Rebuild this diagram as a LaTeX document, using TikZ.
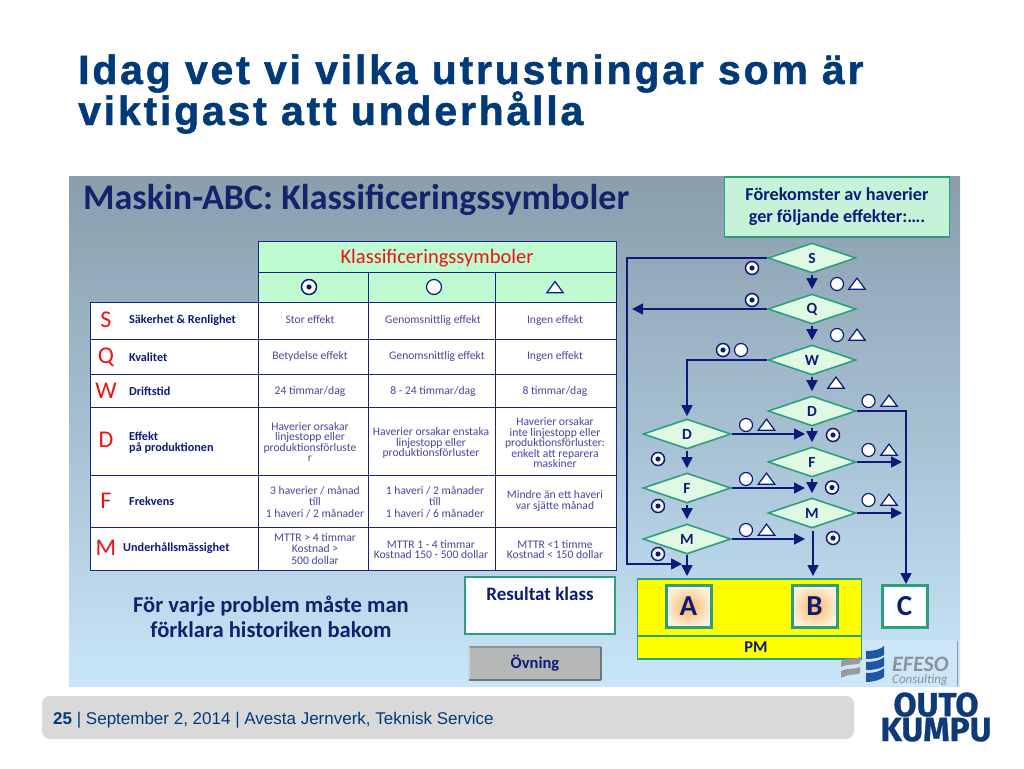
\documentclass[tikz,border=0pt]{standalone}
\usepackage{fontspec}
\setmainfont{Carlito}
\newfontfamily\arialbold[LetterSpace=6.8,BoldFeatures={FakeBold=1.2}]{Liberation Sans}
\newfontfamily\arialreg{Liberation Sans}
\newfontfamily\logofont[BoldFeatures={FakeBold=0.8}]{Fira Sans}
\usetikzlibrary{shapes.geometric,arrows.meta,shadings}
\definecolor{navy}{HTML}{0C1A7C}
\definecolor{titleblue}{HTML}{003A78}
\definecolor{cellc}{HTML}{47479A}
\definecolor{greenl}{HTML}{2C9F80}
\definecolor{mint}{HTML}{BFFBD0}
\definecolor{dmint}{HTML}{DFF9E2}
\definecolor{pantop}{HTML}{8A9EAC}
\definecolor{panmid}{HTML}{A6C0D2}
\definecolor{panbot}{HTML}{C8E6FA}
\definecolor{efbg}{HTML}{CDE6F8}
\definecolor{efline}{HTML}{8A98A4}
\definecolor{ptitlec}{HTML}{16226C}
\definecolor{hdrfill}{HTML}{C6F3D8}
\definecolor{notec}{HTML}{12206E}
\definecolor{btnfill}{HTML}{B6B8B8}
\definecolor{btndark}{HTML}{6E787C}
\definecolor{btnmid}{HTML}{8B9296}
\definecolor{btnlight}{HTML}{CBD3D6}
\definecolor{orin}{HTML}{FDB55A}
\definecolor{orout}{HTML}{F8EFDC}
\definecolor{efgray}{HTML}{9A9A9A}
\definecolor{efblue}{HTML}{1F55A5}
\definecolor{eftext}{HTML}{8C929A}
\definecolor{footg}{HTML}{D9D9D9}
\definecolor{logoc}{HTML}{0F3A78}
\definecolor{yelw}{HTML}{FFFF00}
\definecolor{redk}{HTML}{EE1111}
\newcommand{\fsz}[1]{\fontsize{#1}{#1}\selectfont}
\newcommand{\fsl}[2]{\fontsize{#1}{#2}\selectfont}
\tikzset{
 cond/.style={diamond,draw=greenl,line width=1.6pt,fill=dmint,minimum width=88pt,minimum height=30pt,inner sep=0pt,aspect=2.9,text=navy,font=\fsz{15.5}\bfseries},
 flow/.style={draw=navy,line width=1.6pt,-{Triangle[length=11pt,width=11pt]}},
 short/.style={shorten >=4pt,shorten <=1pt},
 bull/.style={circle,draw=navy,line width=1.5pt,fill=white,minimum size=13pt,inner sep=0pt,path picture={\fill[navy] (path picture bounding box.center) circle (2.6pt);}},
 circ/.style={circle,draw=navy,line width=1.2pt,fill=white,minimum size=13pt,inner sep=0pt},
 tria/.style={regular polygon,regular polygon sides=3,draw=navy,line width=1.2pt,fill=white,minimum size=19pt,inner sep=0pt,yscale=.78,transform shape},
 cell/.style={text=cellc,font=\fsl{11.6}{10.5},align=center,inner sep=0pt},
 cellw/.style={text=cellc,font=\fsl{11.6}{11.8},align=center,inner sep=0pt},
 rowl/.style={text=navy,font=\fsl{12.2}{11}\bfseries,align=left,anchor=west,inner sep=0pt},
 rowk/.style={text=redk,font=\fsz{24},inner sep=0pt},
 gridl/.style={draw=navy!80!cellc,line width=1pt},
 klass/.style={draw=greenl,line width=3pt,minimum width=45pt,minimum height=42pt,inner sep=0pt,text=navy,font=\fsz{29}\bfseries},
}
\begin{document}
\begin{tikzpicture}[x=1pt,y=-1pt]
\useasboundingbox (0,0) rectangle (1024,768);
\fill[white] (0,0) rectangle (1024,768);
% title
\node[anchor=base west,inner sep=0pt,text=titleblue,font=\fsz{41}\arialbold\bfseries] (t1) at (78,84) {Idag vet vi vilka utrustningar som är};
\node[anchor=base west,inner sep=0pt,text=titleblue,font=\fsz{41}\arialbold\bfseries] (t2) at (78,125) {viktigast att underhålla};
% panel
\shade[top color=pantop,bottom color=panbot,middle color=panmid] (69,176) rectangle (960,686);
\fill[efbg] (840,640) rectangle (960,686);
\draw[efline,line width=1pt] (957.5,641) -- (957.5,686);
\node[anchor=base west,inner sep=0pt,text=ptitlec,font=\fsz{36}\bfseries] (ptitle) at (83,209) {Maskin-ABC: Klassificeringssymboler};
\node[draw=greenl,line width=1.6pt,fill=hdrfill,minimum width=225pt,minimum height=60pt,align=center,text=navy,font=\fsl{18.2}{22}\bfseries,inner sep=0pt] (hdr) at (837,207) {Förekomster av haverier\\ger följande effekter:….};
% table
\fill[mint] (258,241) rectangle (616,302);
\fill[white] (90,302) rectangle (616,570);
\draw[gridl] (258,241) rectangle (616,302);
\draw[gridl] (258,272) -- (616,272);
\draw[gridl] (90,302) rectangle (616,570);
\draw[gridl] (258,302) -- (258,570);
\draw[gridl] (368,272) -- (368,570);
\draw[gridl] (495,272) -- (495,570);
\draw[gridl] (90,339) -- (616,339);
\draw[gridl] (90,374) -- (616,374);
\draw[gridl] (90,407) -- (616,407);
\draw[gridl] (90,475) -- (616,475);
\draw[gridl] (90,527) -- (616,527);
\node[text=redk,font=\fsz{20.5},inner sep=0pt] (klh) at (437,258) {Klassificeringssymboler};
\node[bull,minimum size=15pt] (hb) at (309,287) {};
\node[circ,minimum size=15pt] (hc) at (434,287) {};
\node[tria] (ht) at (555,289) {};
\node[rowk] (ks) at (106,320) {S};
\node[rowk] (kq) at (106,357) {Q};
\node[rowk] (kw) at (106,391) {W};
\node[rowk] (kd) at (106,440) {D};
\node[rowk] (kf) at (106,501) {F};
\node[rowk] (km) at (106,548) {M};
\node[rowl] (ls) at (129,320) {Säkerhet \& Renlighet};
\node[rowl] (lq) at (129,357) {Kvalitet};
\node[rowl] (lw) at (129,391) {Driftstid};
\node[rowl] (ld) at (129,443) {Effekt\\på produktionen};
\node[rowl] (lf) at (129,501) {Frekvens};
\node[rowl] (lm) at (123,548) {Underhållsmässighet};
\node[cell] (c11) at (310,320) {Stor effekt};
\node[cell] (c12) at (433,320) {Genomsnittlig effekt};
\node[cell] (c13) at (555,320) {Ingen effekt};
\node[cell] (c21) at (310,356) {Betydelse effekt};
\node[cell] (c22) at (437,356) {Genomsnittlig effekt};
\node[cell] (c23) at (555,356) {Ingen effekt};
\node[cell] (c31) at (310,391) {24 timmar/dag};
\node[cell] (c32) at (433,391) {8 - 24 timmar/dag};
\node[cell] (c33) at (555,391) {8 timmar/dag};
\node[cell] (c41) at (310,442) {Haverier orsakar\\linjestopp eller\\produktionsförluste\\r};
\node[cell] (c42) at (431,443) {Haverier orsakar enstaka\\linjestopp eller\\produktionsförluster};
\node[cell] (c43) at (555,443) {Haverier orsakar\\inte linjestopp eller\\produktionsförluster:\\enkelt att reparera\\maskiner};
\node[cellw] (c51) at (315,502) {3 haverier / månad\\till\\1 haveri / 2 månader};
\node[cellw] (c52) at (435,502) {1 haveri / 2 månader\\till\\1 haveri / 6 månader};
\node[cell] (c53) at (555,501) {Mindre än ett haveri\\var sjätte månad};
\node[cellw] (c61) at (315,549) {MTTR > 4 timmar\\Kostnad >\\500 dollar};
\node[cell] (c62) at (431,549.5) {MTTR 1 - 4 timmar\\Kostnad 150 - 500 dollar};
\node[cell] (c63) at (555,549.5) {MTTR <1 timme\\Kostnad < 150 dollar};
% lower left
\node[align=center,text=notec,font=\fsl{22.6}{25}\bfseries,inner sep=0pt] (note) at (271,617) {För varje problem måste man\\förklara historiken bakom};
\node[draw=greenl,line width=1.3pt,fill=white,minimum width=150pt,minimum height=57pt,inner sep=0pt] (res) at (540,605.5) {};
\node[text=navy,font=\fsz{19}\bfseries,inner sep=0pt] (rest) at (540,594) {Resultat klass};
\node[fill=btnfill,minimum width=132pt,minimum height=33pt,text=navy,font=\fsz{16.5}\bfseries,inner sep=0pt] (ovn) at (535,663.5) {Övning};
\draw[btnmid,line width=1.5pt] (ovn.north west) -- (ovn.north east);
\draw[btnlight,line width=1.5pt] (ovn.north west) -- (ovn.south west);
\draw[btndark,line width=2pt] (ovn.north east) -- (ovn.south east);
\draw[btndark,line width=1.5pt] (ovn.south west) -- (ovn.south east);
% result area
\node[draw=greenl,line width=1.3pt,fill=yelw,minimum width=224pt,minimum height=57pt,inner sep=0pt] (top) at (749.5,607.5) {};
\node[draw=greenl,line width=1.3pt,fill=yelw,minimum width=224pt,minimum height=23pt,inner sep=0pt] (pm) at (749.5,647.5) {};
\node[text=navy,font=\fsz{16.5}\bfseries,inner sep=0pt] (pmt) at (756,647.5) {PM};
\node[klass,inner color=orin,outer color=orout] (A) at (688.5,606.5) {A};
\node[klass,inner color=orin,outer color=orout] (B) at (814.5,606.5) {B};
\node[klass,fill=white] (C) at (904.5,606.5) {C};
% diamonds
\node[cond] (S) at (812,258) {S};
\node[cond] (Q) at (812,309) {Q};
\node[cond] (W) at (812,360) {W};
\node[cond] (D) at (812,411) {D};
\node[cond] (F) at (812,462) {F};
\node[cond] (M) at (812,513) {M};
\node[cond] (LD) at (687,434) {D};
\node[cond] (LF) at (687,488) {F};
\node[cond] (LM) at (687,539) {M};
% connector ends
\coordinate (sa) at (627,258);
\coordinate (sb) at (627,564);
\coordinate (sc) at (682,564);
\coordinate (qe) at (632,309);
\coordinate (wa) at (687,360);
\coordinate (da) at (906,411);
\coordinate (fe) at (902,462);
\coordinate (me) at (902,513);
\coordinate (ld1) at (805,434);
\coordinate (lf1) at (805,488);
\coordinate (lm1) at (805,539);
\coordinate (ble) at (687,576);
\coordinate (brs) at (813,531);
\coordinate (bre) at (813,576);
\coordinate (ce) at (906,584);
\draw[flow] (S.west) -- (sa) -- (sb) -- (sc);
\draw[flow] (Q.west) -- (qe);
\draw[flow,shorten >=2pt] (W.west) -- (wa) -- (LD.north);
\draw[flow,short] (S.south) -- (Q.north);
\draw[flow,short] (Q.south) -- (W.north);
\draw[flow,short] (W.south) -- (D.north);
\draw[flow,short] (D.south) -- (F.north);
\draw[flow,short] (F.south) -- (M.north);
\draw[flow,short] (LD.south) -- (LF.north);
\draw[flow,short] (LF.south) -- (LM.north);
\draw[flow] (LM.south) -- (ble);
\draw[flow] (brs) -- (bre);
\draw[flow] (D.east) -- (da) -- (ce);
\draw[flow] (F.east) -- (fe);
\draw[flow] (M.east) -- (me);
\draw[flow] (LD.east) -- (ld1);
\draw[flow] (LF.east) -- (lf1);
\draw[flow] (LM.east) -- (lm1);
% symbols
\node[bull] (b1) at (752,268) {};
\node[bull] (b2) at (752,300) {};
\node[bull] (b3) at (723,350) {};
\node[bull] (b4) at (833,435) {};
\node[bull] (b5) at (658,459) {};
\node[bull] (b6) at (832,487.5) {};
\node[bull] (b7) at (658,506) {};
\node[bull] (b8) at (833,538) {};
\node[bull] (b9) at (658,554) {};
\node[circ] (o1) at (837,284) {};
\node[tria] (t01) at (857,285.5) {};
\node[circ] (o2) at (837,335) {};
\node[tria] (t02) at (857,336.5) {};
\node[circ] (o3) at (741,350) {};
\node[tria] (t03) at (836,384.5) {};
\node[circ] (o4) at (868.5,401) {};
\node[tria] (t04) at (889,402.5) {};
\node[circ] (o5) at (746,425) {};
\node[tria] (t05) at (766.5,426.5) {};
\node[circ] (o6) at (868.5,450) {};
\node[tria] (t06) at (889,451.5) {};
\node[circ] (o7) at (746,479) {};
\node[tria] (t07) at (766.5,480.5) {};
\node[circ] (o8) at (868.5,500) {};
\node[tria] (t08) at (889,501.5) {};
\node[circ] (o9) at (746,530) {};
\node[tria] (t09) at (766.5,531.5) {};
% EFESO logo
\fill[efgray] (841,661) .. controls (850,657) and (853,660) .. (860,657) -- (860,663) .. controls (853,666) and (850,663) .. (841,667) -- cycle;
\fill[efgray] (841,671) .. controls (850,667) and (853,670) .. (860,667) -- (860,673) .. controls (853,676) and (850,673) .. (841,678) -- cycle;
\fill[efblue] (866,651) .. controls (875,651) and (881,649) .. (884,646) -- (884,655) .. controls (880,658) and (873,659) .. (866,659) -- cycle;
\fill[efblue] (866,662) .. controls (875,662) and (881,660) .. (884,657) -- (884,666) .. controls (880,669) and (873,670) .. (866,670) -- cycle;
\fill[efblue] (866,673) .. controls (875,673) and (881,671) .. (884,668) -- (884,677) .. controls (880,680) and (873,682) .. (866,682) -- cycle;
\node[anchor=base west,inner sep=0pt,text=eftext,font=\fsl{22}{13}\bfseries\itshape] (ef) at (892,671) {EFESO};
\node[anchor=base west,inner sep=0pt,text=eftext,font=\fsz{13}\itshape] (co) at (892,683.5) {Consulting};
% footer
\fill[footg,rounded corners=8pt] (42,696) rectangle (854,739);
\node[anchor=base west,inner sep=0pt,text=titleblue,font=\fsz{17}\arialreg] (foot) at (53,724) {\textbf{25} | September 2, 2014 | Avesta Jernverk, Teknisk Service};
% logo
\node[anchor=center,align=center,inner sep=0pt,text=logoc,font=\fsl{33.5}{23}\logofont\bfseries] (oo) at (936,717) {OUTO\\KUMPU};
\end{tikzpicture}
\end{document}
